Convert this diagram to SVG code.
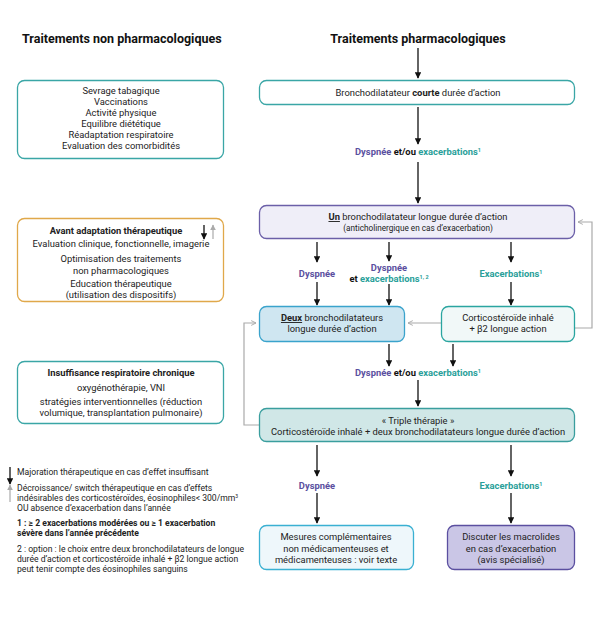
<svg xmlns="http://www.w3.org/2000/svg" width="600" height="620" viewBox="0 0 600 620">
<defs>
<marker id="ah" viewBox="0 0 10 10" refX="9" refY="5" markerWidth="5" markerHeight="5" markerUnits="strokeWidth" orient="auto">
<path d="M0,0 L10,5 L0,10 z" fill="#111"/>
</marker>
<marker id="ahg" viewBox="0 0 10 10" refX="9" refY="5" markerWidth="5" markerHeight="5" markerUnits="strokeWidth" orient="auto">
<path d="M0,0 L10,5 L0,10 z" fill="#aaa"/>
</marker>
<marker id="gh" viewBox="0 0 10 10" refX="9" refY="5" markerWidth="5" markerHeight="5" markerUnits="strokeWidth" orient="auto">
<path d="M1,1 L9,5 L1,9" fill="none" stroke="#aaa" stroke-width="1.6"/>
</marker>
</defs>
<style>
text{font-family:Roboto,"Liberation Sans",Arial,sans-serif;fill:#222;}
.t{font-size:12.5px;font-weight:bold;fill:#111;}
.m{font-size:9.4px;text-anchor:middle;}
.b{font-weight:bold;}
.l{font-size:8.6px;}
.dy{fill:#5a4fa0;font-weight:bold;}
.ex{fill:#2a9f9a;font-weight:bold;}
.bk{fill:#111;font-weight:bold;}
.sup{font-size:5.5px;}
.ar{stroke:#111;stroke-width:1.3;fill:none;marker-end:url(#ah);}
.ga{stroke:#aaa;stroke-width:1.2;fill:none;marker-end:url(#gh);}
</style>
<rect width="600" height="620" fill="#fff"/>

<text class="t" x="22" y="43">Traitements non pharmacologiques</text>
<text class="t" x="418" y="43" text-anchor="middle">Traitements pharmacologiques</text>

<g id="connectors">
<line class="ar" x1="418" y1="48" x2="418" y2="78"/>
<line class="ar" x1="418" y1="107" x2="418" y2="144"/>
<line class="ar" x1="418" y1="162" x2="418" y2="203"/>
<line class="ar" x1="317" y1="242" x2="317" y2="262"/>
<line class="ar" x1="317" y1="282" x2="317" y2="305"/>
<line class="ar" x1="389" y1="242" x2="389" y2="261"/>
<line class="ar" x1="389" y1="284" x2="389" y2="305"/>
<line class="ar" x1="511" y1="242" x2="511" y2="262"/>
<line class="ar" x1="511" y1="282" x2="511" y2="305"/>
<line class="ar" x1="389" y1="344" x2="389" y2="366"/>
<line class="ar" x1="453" y1="344" x2="453" y2="366"/>
<line class="ar" x1="418" y1="380" x2="418" y2="406"/>
<line class="ar" x1="317" y1="445" x2="317" y2="476"/>
<line class="ar" x1="317" y1="493" x2="317" y2="523"/>
<line class="ar" x1="511" y1="445" x2="511" y2="476"/>
<line class="ar" x1="511" y1="493" x2="511" y2="523"/>
<polyline class="ga" points="575,328 592,328 592,222 578,222"/>
<line class="ga" x1="441" y1="323" x2="408" y2="323"/>
<polyline class="ga" points="259,425 244,425 244,323 256,323"/>
</g>

<g id="n-labels">
<text class="m" x="418" y="155"><tspan class="dy">Dyspnée</tspan><tspan class="bk"> et/ou </tspan><tspan class="ex">exacerbations</tspan><tspan class="ex sup" dy="-3">1</tspan></text>
<text class="m dy" x="317" y="277">Dyspnée</text>
<text class="m dy" x="389" y="271">Dyspnée</text>
<text class="m" x="389" y="282"><tspan class="bk">et </tspan><tspan class="ex">exacerbations</tspan><tspan class="ex sup" dy="-3">1, 2</tspan></text>
<text class="m" x="511" y="277"><tspan class="ex">Exacerbations</tspan><tspan class="ex sup" dy="-3">1</tspan></text>
<text class="m" x="418" y="376"><tspan class="dy">Dyspnée</tspan><tspan class="bk"> et/ou </tspan><tspan class="ex">exacerbations</tspan><tspan class="ex sup" dy="-3">1</tspan></text>
<text class="m dy" x="317" y="489">Dyspnée</text>
<text class="m" x="511" y="489"><tspan class="ex">Exacerbations</tspan><tspan class="ex sup" dy="-3">1</tspan></text>
</g>

<g id="n-nonpharma">
<rect x="17.5" y="80.5" width="206" height="78" rx="7" fill="#fff" stroke="#3aa6a6" stroke-width="1.3"/>
<text class="m" x="121" y="94">Sevrage tabagique</text>
<text class="m" x="121" y="105">Vaccinations</text>
<text class="m" x="121" y="116">Activité physique</text>
<text class="m" x="121" y="127">Equilibre diététique</text>
<text class="m" x="121" y="138">Réadaptation respiratoire</text>
<text class="m" x="121" y="148.5">Evaluation des comorbidités</text>
</g>

<g id="n-avant">
<rect x="17.5" y="218.5" width="206" height="83" rx="7" fill="#fff" stroke="#e0a84a" stroke-width="1.3"/>
<text class="m b" x="116" y="234">Avant adaptation  thérapeutique</text>
<line x1="204" y1="225" x2="204" y2="239" stroke="#111" stroke-width="1.3" marker-end="url(#ah)"/>
<line x1="213" y1="239" x2="213" y2="225" stroke="#aaa" stroke-width="1.2" marker-end="url(#ahg)"/>
<text class="m" x="121" y="247">Evaluation clinique, fonctionnelle, imagerie</text>
<text class="m" x="121" y="262">Optimisation des traitements</text>
<text class="m" x="121" y="273.5">non pharmacologiques</text>
<text class="m" x="121" y="287">Education thérapeutique</text>
<text class="m" x="121" y="297.5">(utilisation des dispositifs)</text>
</g>

<g id="n-insuff">
<rect x="17.5" y="361.5" width="206" height="62" rx="7" fill="#fff" stroke="#3aa6a6" stroke-width="1.3"/>
<text class="m b" x="121" y="376">Insuffisance respiratoire chronique</text>
<text class="m" x="121" y="391">oxygénothérapie, VNI</text>
<text class="m" x="121" y="405">stratégies interventionnelles (réduction</text>
<text class="m" x="121" y="416">volumique, transplantation pulmonaire)</text>
</g>

<g id="n-courte">
<rect x="259.5" y="80.5" width="315" height="24" rx="7" fill="#fff" stroke="#3aa6a6" stroke-width="1.3"/>
<text class="m" x="418" y="95.5">Bronchodilatateur <tspan class="b">courte</tspan> durée d’action</text>
</g>

<g id="n-un">
<rect x="259.5" y="205.5" width="315" height="33" rx="7" fill="#efeef8" stroke="#6b5fa8" stroke-width="1.3"/>
<text class="m" x="418" y="220"><tspan class="b" text-decoration="underline">Un</tspan> bronchodilatateur longue durée d’action</text>
<text class="m" x="418" y="231" style="font-size:8.2px">(anticholinergique en cas d’exacerbation)</text>
</g>

<g id="n-deux">
<rect x="259.5" y="306.5" width="145" height="35" rx="7" fill="#cfe6f1" stroke="#3aa3cc" stroke-width="1.3"/>
<text class="m" x="332" y="321"><tspan class="b" text-decoration="underline">Deux</tspan> bronchodilatateurs</text>
<text class="m" x="332" y="332">longue durée d’action</text>
</g>

<g id="n-cortico">
<rect x="441.5" y="306.5" width="133" height="35" rx="7" fill="#f1f8f8" stroke="#2aa5a0" stroke-width="1.3"/>
<text class="m" x="508" y="321">Corticostéroïde inhalé</text>
<text class="m" x="508" y="332">+ β2 longue action</text>
</g>

<g id="n-triple">
<rect x="259.5" y="408.5" width="315" height="33" rx="7" fill="#d0e7e7" stroke="#3a9e9e" stroke-width="1.3"/>
<text class="m" x="418" y="424">« Triple thérapie »</text>
<text class="m" x="418" y="435">Corticostéroïde inhalé + deux bronchodilatateurs longue durée d’action</text>
</g>

<g id="n-mesures">
<rect x="259.5" y="525.5" width="154" height="44" rx="7" fill="#eef7fb" stroke="#3ab0d2" stroke-width="1.3"/>
<text class="m" x="336" y="540">Mesures complémentaires</text>
<text class="m" x="336" y="552">non médicamenteuses et</text>
<text class="m" x="336" y="563">médicamenteuses : voir texte</text>
</g>

<g id="n-macro">
<rect x="447.5" y="525.5" width="127" height="44" rx="7" fill="#cac6e6" stroke="#5b4fa0" stroke-width="1.3"/>
<text class="m" x="511" y="540">Discuter les macrolides</text>
<text class="m" x="511" y="552">en cas d’exacerbation</text>
<text class="m" x="511" y="563">(avis spécialisé)</text>
</g>

<g id="legend">
<line x1="10" y1="467" x2="10" y2="484" stroke="#111" stroke-width="1.3" marker-end="url(#ah)"/>
<text class="l" x="17" y="475">Majoration thérapeutique en cas d’effet insuffisant</text>
<line x1="10" y1="502" x2="10" y2="485" stroke="#aaa" stroke-width="1.2" marker-end="url(#ahg)"/>
<text class="l" x="17" y="491">Décroissance/ switch thérapeutique en cas d’effets</text>
<text class="l" x="17" y="501">indésirables des corticostéroïdes, éosinophiles&lt; 300/mm<tspan style="font-size:5px" dy="-3">3</tspan></text>
<text class="l" x="17" y="511">OU absence d’exacerbation dans l’année</text>
<text class="l b" x="17" y="526">1 : ≥ 2 exacerbations modérées ou ≥ 1 exacerbation</text>
<text class="l b" x="17" y="536">sévère dans l’année précédente</text>
<text class="l" x="17" y="552">2 : option : le choix entre deux bronchodilatateurs de longue</text>
<text class="l" x="17" y="562">durée d’action et corticostéroïde inhalé + β2 longue action</text>
<text class="l" x="17" y="571.5">peut tenir compte des éosinophiles sanguins</text>
</g>
</svg>
